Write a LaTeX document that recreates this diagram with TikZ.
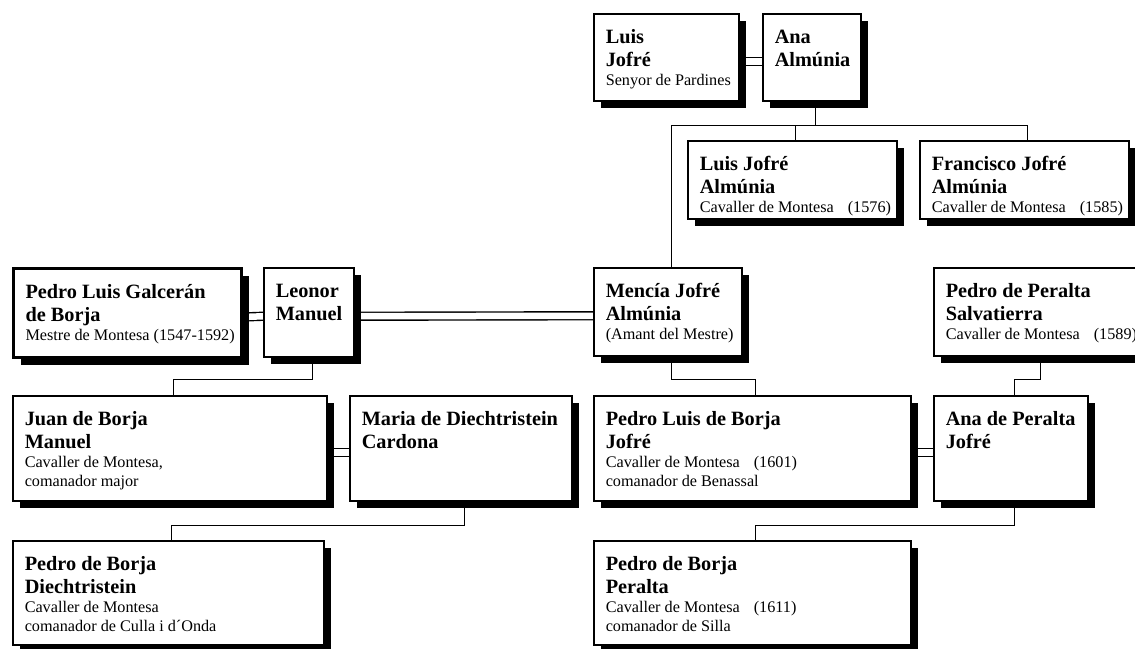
\documentclass[tikz,border=0pt]{standalone}
\usepackage{fontspec}
\setmainfont{Liberation Serif}
\usetikzlibrary{shadows}
\pgfdeclarelayer{bg}
\pgfsetlayers{bg,main}
\newcommand\famcell[4]{%
\begin{minipage}[c][#2pt][t]{#1pt}%
\setlength\parindent{0pt}\setlength\parskip{0pt}\leftskip=12pt\rightskip=0pt plus 1fil
{\fontsize{20.3}{23}\bfseries\rule{0pt}{30pt}#3\par}%
{\fontsize{16.2}{19}\selectfont #4\par}%
\end{minipage}}
\tikzset{
  person/.style={draw, line width=1.5pt, fill=white, inner sep=0pt, anchor=north west,
    drop shadow={shadow xshift=7pt, shadow yshift=-7pt, fill=black, opacity=1}},
  thickp/.style={person, line width=3pt},
  conn/.style={line width=1.4pt},
  dbl/.style={double, double distance=6.5pt, line width=1.4pt}
}
\begin{document}
\begin{tikzpicture}[x=1pt,y=-1pt]
\useasboundingbox (0,0) rectangle (1135,648);
\clip (0,0) rectangle (1135,648);
\node[person] (luis) at (593,13) {\famcell{145}{87}{Luis\\Jofré}{\mbox{Senyor de Pardines}}};
\node[person] (ana) at (762,13) {\famcell{98}{87}{Ana\\Almúnia}{}};
\node[person] (luisja) at (687,140) {\famcell{209}{78}{Luis Jofré\\Almúnia}{\mbox{Cavaller de Montesa\hspace{14pt}(1576)}}};
\node[person] (francisco) at (919,140) {\famcell{209}{78}{Francisco Jofré\\Almúnia}{\mbox{Cavaller de Montesa\hspace{14pt}(1585)}}};
\node[thickp] (pedrolg) at (12,267) {\famcell{228}{89}{Pedro Luis Galcerán\\de Borja}{\mbox{Mestre de Montesa (1547-1592)}}};
\node[person] (leonor) at (263,267) {\famcell{90}{89}{Leonor\\Manuel}{}};
\node[person] (mencia) at (593,267) {\famcell{148}{88}{Mencía Jofré\\Almúnia}{\mbox{(Amant del Mestre)}}};
\node[person] (pperalta) at (933,267) {\famcell{207}{88}{Pedro de Peralta\\Salvatierra}{\mbox{Cavaller de Montesa\hspace{14pt}(1589)}}};
\node[person] (juan) at (12,395) {\famcell{314}{105}{Juan de Borja\\Manuel}{\mbox{Cavaller de Montesa,}\\\mbox{comanador major}}};
\node[person] (maria) at (349,395) {\famcell{222}{105}{\mbox{Maria de Diechtristein}\\Cardona}{}};
\node[person] (pljofre) at (593,395) {\famcell{317}{105}{Pedro Luis de Borja\\Jofré}{\mbox{Cavaller de Montesa\hspace{14pt}(1601)}\\\mbox{comanador de Benassal}}};
\node[person] (anap) at (933,395) {\famcell{154}{105}{Ana de Peralta\\Jofré}{}};
\node[person] (pbd) at (12,540) {\famcell{311}{104}{Pedro de Borja\\Diechtristein}{\mbox{Cavaller de Montesa}\\\mbox{comanador de Culla i d´Onda}}};
\node[person] (pbp) at (593,540) {\famcell{317}{104}{Pedro de Borja\\Peralta}{\mbox{Cavaller de Montesa\hspace{14pt}(1611)}\\\mbox{comanador de Silla}}};
\begin{pgfonlayer}{bg}
\draw[dbl] ([yshift=-4pt]luis.east) -- ([yshift=-4pt]ana.west);
\draw[dbl] ([yshift=-4pt]pedrolg.east) -- ([yshift=-4pt]leonor.west);
\draw[dbl] ([yshift=-4pt]leonor.east) -- ([yshift=-4pt]mencia.west);
\draw[dbl] ([yshift=-4pt]juan.east) -- ([yshift=-4pt]maria.west);
\draw[dbl] ([yshift=-4pt]pljofre.east) -- ([yshift=-4pt]anap.west);
\coordinate (anabar) at ([xshift=3.5pt,yshift=-24pt]ana.south);
\draw[conn] ([xshift=3.5pt]ana.south) -- (anabar);
\draw[conn] ([xshift=3.5pt]mencia.north) |- (anabar);
\draw[conn] ([xshift=3.5pt]luisja.north) |- (anabar);
\draw[conn] ([xshift=3.5pt]francisco.north) |- (anabar);
\draw[conn] ([xshift=3.5pt]leonor.south) -- ++(0,22) -| ([xshift=3.5pt]juan.north);
\draw[conn] ([xshift=3.5pt]mencia.south) -- ++(0,23) -| ([xshift=3.5pt]pljofre.north);
\draw[conn] ([xshift=3.5pt]pperalta.south) -- ++(0,23) -| ([xshift=3.5pt]anap.north);
\draw[conn] ([xshift=3.5pt]maria.south) -- ++(0,24) -| ([xshift=3.5pt]pbd.north);
\draw[conn] ([xshift=3.5pt]anap.south) -- ++(0,24) -| ([xshift=3.5pt]pbp.north);
\end{pgfonlayer}
\end{tikzpicture}
\end{document}
